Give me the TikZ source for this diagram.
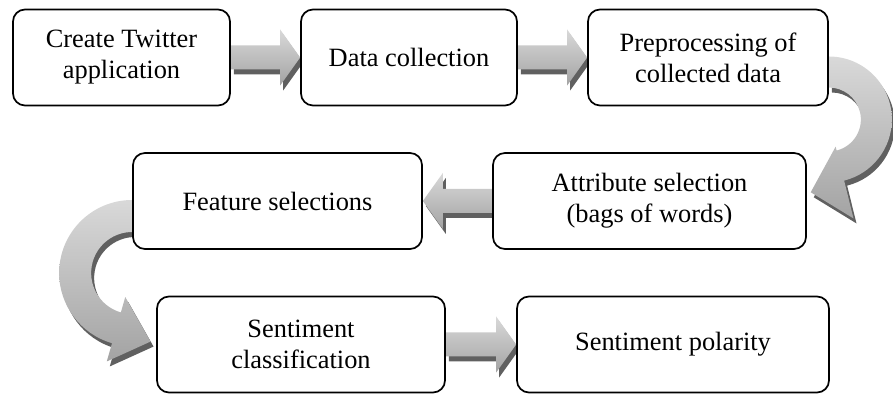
\documentclass[tikz,border=0pt]{standalone}
\usepackage{fontspec}
\setmainfont{Liberation Serif}
\usetikzlibrary{calc,backgrounds}
\tikzset{stepnode/.style={draw,line width=0.85pt,rounded corners=6pt,fill=white,align=center,minimum height=48pt,font=\fontsize{13.2}{15.5}\selectfont},
arrshadow/.style={fill=gray!75!black,transform canvas={shift={(1.5pt,-2.5pt)}}},
arrbody/.style={top color=gray!30,bottom color=gray!72}}
\newcommand\fatarr[2]{\coordinate (h) at ($(#2)!10pt!(#1)$);
\foreach \st in {arrshadow,arrbody}{\path[\st]($(#1)!6pt!90:(#2)$)--($(h)!6pt!90:(#2)$)--($(h)!14pt!90:(#2)$)--(#2)
--($(h)!14pt!-90:(#2)$)--($(h)!6pt!-90:(#2)$)--($(#1)!6pt!-90:(#2)$)--cycle;}}
\begin{document}
\begin{tikzpicture}[x=0.5pt,y=0.5pt]
\useasboundingbox(0,0)rectangle(893,394);
\foreach \n/\x/\y/\w/\t in {create/121.5/336.5/108.5/{Create Twitter\\application},collect/409/336.5/108/Data collection,
prep/708/336.5/120/{Preprocessing of\\collected data},attr/649.5/193/156.5/{Attribute selection\\(bags of words)},
feat/277.5/193/144.5/Feature selections,class/301/49.5/144/{Sentiment\\classification},pol/673/49.5/156/Sentiment polarity}
\node[stepnode,minimum width=\w pt](\n)at(\x,\y){\t};
\begin{scope}[on background layer]
\fatarr{create.east}{collect.west}
\fatarr{collect.east}{prep.west}
\fatarr{attr.west}{feat.east}
\fatarr{class.east}{pol.west}
\coordinate (rc) at ($(prep.east)+(0,-31pt)$);
\coordinate (lc) at ($(feat.west)+(0,-36pt)$);
\foreach \st in {arrshadow,arrbody}{
\path[\st]($(rc)+(90:31.5pt)$)arc[start angle=90,end angle=-76,radius=31.5pt]--($(rc)+(-76:51pt)$)--($(rc)+(-104:37.5pt)$)
--($(rc)+(-76:14pt)$)--($(rc)+(-76:16pt)$)arc[start angle=-76,end angle=90,radius=16pt]--cycle;
\path[\st]($(lc)+(90:36.5pt)$)arc[start angle=90,end angle=254,radius=36.5pt]--($(lc)+(254:46pt)$)--($(lc)+(285:35.5pt)$)
--($(lc)+(254:12.5pt)$)--($(lc)+(254:20.5pt)$)arc[start angle=254,end angle=90,radius=20.5pt]--cycle;}
\end{scope}
\end{tikzpicture}
\end{document}
